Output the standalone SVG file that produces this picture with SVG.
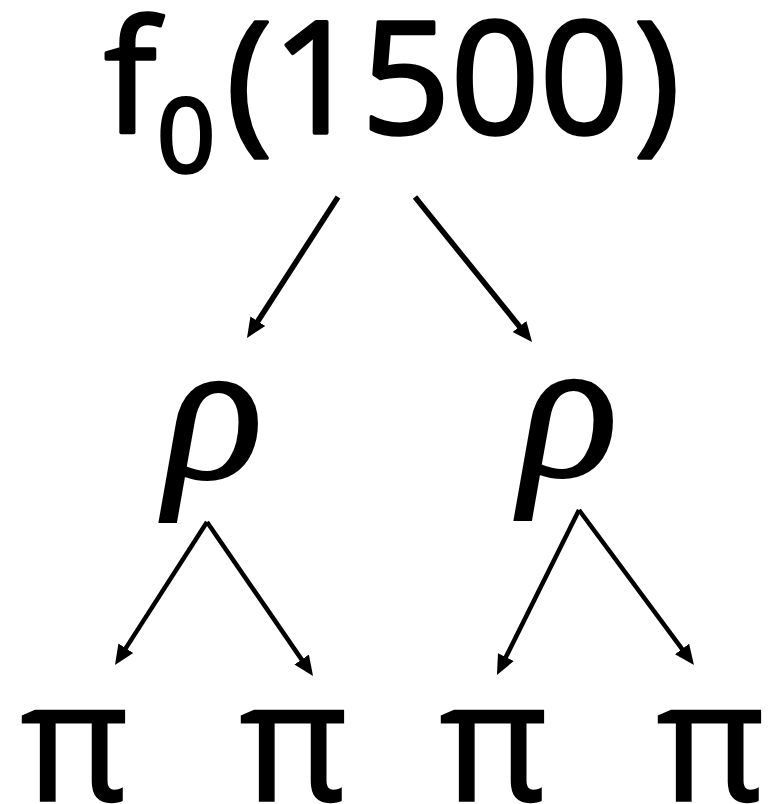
<svg xmlns="http://www.w3.org/2000/svg" width="774" height="804" viewBox="0 0 774 804">
  <style>
    .lbl { font-family: "Open Sans", "Liberation Sans", sans-serif; fill: #000; stroke: #000; stroke-width: 3.5; stroke-linejoin: round; }
    .rho { font-family: "Liberation Serif", "DejaVu Serif", serif; font-style: italic; font-size: 205px; fill: #000; stroke: #000; stroke-width: 2; }
    .pi { font-family: "Open Sans", "Noto Sans", sans-serif; font-size: 166px; fill: #000; stroke: #000; stroke-width: 2.5; }
    .edge { stroke: #000; fill: none; stroke-linecap: butt; }
    .e1 { stroke-width: 5.5; marker-end: url(#head); }
    .e2 { stroke-width: 4.5; marker-end: url(#head); }
  </style>
  <defs>
    <marker id="head" viewBox="0 0 10 10" refX="4" refY="5" markerWidth="20" markerHeight="20" markerUnits="userSpaceOnUse" orient="auto">
      <path d="M0,0.6 L10,5 L0,9.4 Z" fill="#000"/>
    </marker>
  </defs>

  <rect width="774" height="804" fill="#fff"/>

  <!-- root: f0(1500) -->
  <g id="root">
    <text class="lbl" x="104" y="133" font-size="156">f</text>
    <text class="lbl" x="157" y="172" font-size="102">0</text>
    <text class="lbl" x="226" y="133" font-size="156">(</text>
    <text class="lbl" x="272" y="133" font-size="156">1500</text>
    <text class="lbl" x="634" y="133" font-size="156">)</text>
  </g>

  <!-- second level -->
  <g id="rho-left">
    <text class="rho" x="214" y="478" text-anchor="middle">ρ</text>
  </g>
  <g id="rho-right">
    <text class="rho" x="569" y="476" text-anchor="middle">ρ</text>
  </g>

  <!-- leaves -->
  <g id="pi-1"><text class="pi" x="75" y="800" text-anchor="middle">π</text></g>
  <g id="pi-2"><text class="pi" x="294" y="800" text-anchor="middle">π</text></g>
  <g id="pi-3"><text class="pi" x="494" y="800" text-anchor="middle">π</text></g>
  <g id="pi-4"><text class="pi" x="711" y="800" text-anchor="middle">π</text></g>

  <!-- connectors -->
  <g id="edges">
    <line class="edge e1" x1="338" y1="197" x2="253.5" y2="327.9"/>
    <line class="edge e1" x1="415" y1="197" x2="524.5" y2="332.7"/>
    <line class="edge e2" x1="207" y1="522" x2="121.5" y2="654.9"/>
    <line class="edge e2" x1="207" y1="522" x2="306.2" y2="666.1"/>
    <line class="edge e2" x1="579" y1="510" x2="502.3" y2="664.3"/>
    <line class="edge e2" x1="579" y1="510" x2="686.8" y2="655.4"/>
  </g>
</svg>
